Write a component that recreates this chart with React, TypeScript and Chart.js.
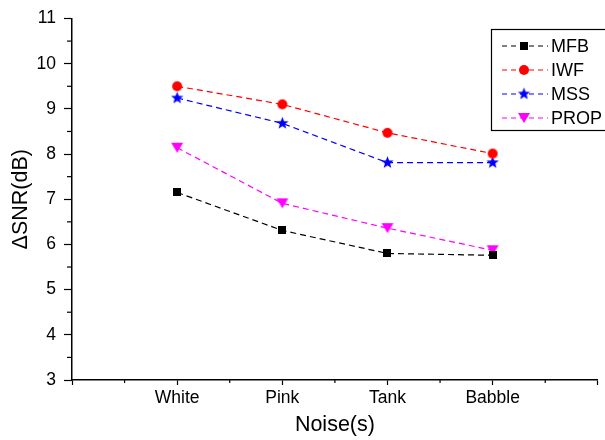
import React, { useEffect, useRef } from "react";
import { Chart, registerables } from "chart.js";

Chart.register(...registerables);

const categories = ["White", "Pink", "Tank", "Babble"];
const seriesNames = ["MFB", "IWF", "MSS", "PROP"];
const mfb = [7.15, 6.31, 5.8, 5.76];
const iwf = [9.5, 9.1, 8.47, 8.01];
const mss = [9.24, 8.68, 7.81, 7.81];
const prop = [8.14, 6.91, 6.36, 5.87];
const yTicks = [3, 4, 5, 6, 7, 8, 9, 10, 11];

const colors = ["#000000", "#ff0000", "#0000ff", "#ff00ff"];
const FONT = "Arial, 'Liberation Sans', sans-serif";

function makeStar(color: string, R: number) {
  const c = document.createElement("canvas");
  const s = Math.ceil(R * 2 + 2);
  c.width = s;
  c.height = s;
  const ctx = c.getContext("2d")!;
  const cx = s / 2, cy = s / 2;
  const r = R * 0.42;
  ctx.beginPath();
  for (let i = 0; i < 10; i++) {
    const rad = (Math.PI / 5) * i - Math.PI / 2;
    const rr = i % 2 === 0 ? R : r;
    const px = cx + Math.cos(rad) * rr;
    const py = cy + Math.sin(rad) * rr;
    if (i === 0) ctx.moveTo(px, py);
    else ctx.lineTo(px, py);
  }
  ctx.closePath();
  ctx.fillStyle = color;
  ctx.fill();
  return c;
}

function makeTriDown(color: string, w: number, h: number) {
  const c = document.createElement("canvas");
  c.width = w + 2;
  c.height = h + 2;
  const ctx = c.getContext("2d")!;
  ctx.beginPath();
  ctx.moveTo(1, 1);
  ctx.lineTo(w + 1, 1);
  ctx.lineTo(w / 2 + 1, h + 1);
  ctx.closePath();
  ctx.fillStyle = color;
  ctx.fill();
  return c;
}

function makeSquare(color: string, s: number) {
  const c = document.createElement("canvas");
  c.width = s;
  c.height = s;
  const ctx = c.getContext("2d")!;
  ctx.fillStyle = color;
  ctx.fillRect(0, 0, s, s);
  return c;
}

function makeCircle(color: string, r: number) {
  const c = document.createElement("canvas");
  const s = Math.ceil(r * 2 + 2);
  c.width = s;
  c.height = s;
  const ctx = c.getContext("2d")!;
  ctx.beginPath();
  ctx.arc(s / 2, s / 2, r, 0, Math.PI * 2);
  ctx.fillStyle = color;
  ctx.fill();
  return c;
}

export default function App() {
  const ref = useRef<HTMLCanvasElement | null>(null);

  useEffect(() => {
    if (!ref.current) return;
    const markers = [
      makeSquare(colors[0], 8),
      makeCircle(colors[1], 5),
      makeStar(colors[2], 6.5),
      makeTriDown(colors[3], 12, 10),
    ];
    const seriesData = [mfb, iwf, mss, prop];

    const minorTicks = {
      id: "minorTicks",
      afterDraw(chart: any) {
        const { ctx, chartArea, scales } = chart;
        ctx.save();
        ctx.strokeStyle = "#000";
        ctx.lineWidth = 1.2;
        for (let v = 0.5; v < 5; v += 1) {
          const x = scales.x.getPixelForValue(v);
          ctx.beginPath();
          ctx.moveTo(x, chartArea.bottom);
          ctx.lineTo(x, chartArea.bottom + 3);
          ctx.stroke();
        }
        for (let v = 3.5; v < 11; v += 1) {
          const y = scales.y.getPixelForValue(v);
          ctx.beginPath();
          ctx.moveTo(chartArea.left, y);
          ctx.lineTo(chartArea.left - 5, y);
          ctx.stroke();
        }
        ctx.restore();
      },
    };

    const legendPlugin = {
      id: "customLegend",
      afterDraw(chart: any) {
        const { ctx } = chart;
        ctx.save();
        const left = 491, top = 29, bottom = 130;
        ctx.strokeStyle = "#000";
        ctx.lineWidth = 1.2;
        ctx.strokeRect(left + 0.5, top + 0.5, 200, bottom - top);
        ctx.font = `18px ${FONT}`;
        ctx.textBaseline = "middle";
        for (let i = 0; i < seriesNames.length; i++) {
          const y = 46 + i * 24;
          ctx.strokeStyle = colors[i];
          ctx.lineWidth = 1.2;
          ctx.setLineDash([5, 4]);
          ctx.beginPath();
          ctx.moveTo(502, y);
          ctx.lineTo(548, y);
          ctx.stroke();
          ctx.setLineDash([]);
          const m = markers[i];
          ctx.drawImage(m, 524 - m.width / 2, y - m.height / 2);
          ctx.fillStyle = "#000";
          ctx.fillText(seriesNames[i], 551, y + 1);
        }
        ctx.restore();
      },
    };

    const chart = new Chart(ref.current, {
      type: "line",
      data: {
        datasets: seriesData.map((vals, i) => ({
          label: seriesNames[i],
          data: vals.map((v, j) => ({ x: j + 1, y: v })),
          borderColor: colors[i],
          backgroundColor: colors[i],
          borderWidth: 1.2,
          borderDash: [6, 4],
          pointStyle: markers[i] as any,
          pointRadius: 6,
          fill: false,
          tension: 0,
        })),
      },
      options: {
        responsive: false,
        animation: false,
        devicePixelRatio: 1,
        layout: { padding: { top: 16, right: 3, left: 0, bottom: 0 } },
        plugins: {
          legend: { display: false },
          tooltip: { enabled: false },
        },
        scales: {
          x: {
            type: "linear",
            min: 0,
            max: 5,
            afterFit: (s: any) => {
              s.height = 60;
            },
            afterBuildTicks: (s: any) => {
              s.ticks = [0, 1, 2, 3, 4, 5].map((v) => ({ value: v }));
            },
            ticks: {
              stepSize: 1,
              autoSkip: false,
              maxRotation: 0,
              padding: 3,
              color: "#000",
              font: { family: FONT, size: 17.5 },
              callback: (v: any) => {
                const n = Number(v);
                return n >= 1 && n <= 4 ? categories[n - 1] : "";
              },
            },
            grid: {
              drawOnChartArea: false,
              drawTicks: true,
              tickLength: 5,
              tickColor: "#000",
              tickWidth: 1.2,
            },
            border: { display: true, color: "#000", width: 1.5 },
            title: {
              display: true,
              text: "Noise(s)",
              color: "#000",
              font: { family: FONT, size: 21.5 },
              padding: { top: 0, bottom: 2 },
            },
          },
          y: {
            type: "linear",
            min: 3,
            max: 11,
            afterFit: (s: any) => {
              s.width = 72;
            },
            afterBuildTicks: (s: any) => {
              s.ticks = yTicks.map((v) => ({ value: v }));
            },
            ticks: {
              stepSize: 1,
              padding: 8,
              color: "#000",
              font: { family: FONT, size: 17.5 },
            },
            grid: {
              drawOnChartArea: false,
              drawTicks: true,
              tickLength: 8,
              tickColor: "#000",
              tickWidth: 1.2,
            },
            border: { display: true, color: "#000", width: 1.5 },
            title: {
              display: true,
              text: "ΔSNR(dB)",
              color: "#000",
              font: { family: FONT, size: 21.5 },
              padding: { top: 8, bottom: 0 },
            },
          },
        },
      },
      plugins: [minorTicks, legendPlugin],
    });
    return () => chart.destroy();
  }, []);

  return (
    <div style={{ position: "fixed", left: 0, top: 0, width: 605, height: 440, background: "#fff" }}>
      <canvas ref={ref} width={605} height={440} />
    </div>
  );
}
